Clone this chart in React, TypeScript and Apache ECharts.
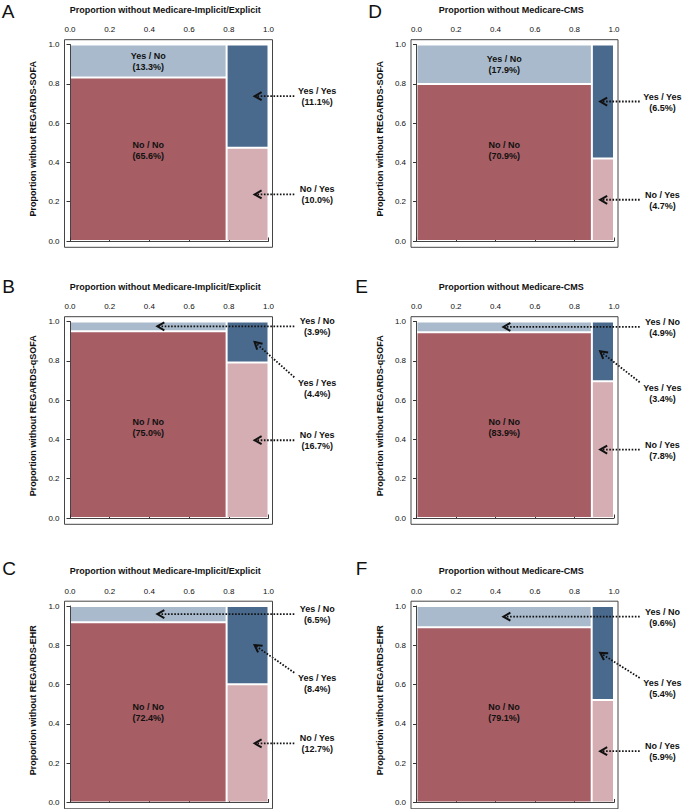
import React, { useEffect, useRef } from 'react';
import * as echarts from 'echarts';

// ---------- data ----------
const panelLetters = ['A', 'B', 'C', 'D', 'E', 'F'];
const xTitles = [
  'Proportion without Medicare-Implicit/Explicit',
  'Proportion without Medicare-Implicit/Explicit',
  'Proportion without Medicare-Implicit/Explicit',
  'Proportion without Medicare-CMS',
  'Proportion without Medicare-CMS',
  'Proportion without Medicare-CMS',
];
const yTitles = [
  'Proportion without REGARDS-SOFA',
  'Proportion without REGARDS-qSOFA',
  'Proportion without REGARDS-EHR',
  'Proportion without REGARDS-SOFA',
  'Proportion without REGARDS-qSOFA',
  'Proportion without REGARDS-EHR',
];
// percentages per panel (A..F)
const noNo = [65.6, 75.0, 72.4, 70.9, 83.9, 79.1];
const yesNo = [13.3, 3.9, 6.5, 17.9, 4.9, 9.6];
const yesYes = [11.1, 4.4, 8.4, 6.5, 3.4, 5.4];
const noYes = [10.0, 16.7, 12.7, 4.7, 7.8, 5.9];
const tickLabels = ['0.0', '0.2', '0.4', '0.6', '0.8', '1.0'];
const cellNames = ['No / No', 'Yes / No', 'Yes / Yes', 'No / Yes'];

// ---------- styles / layout ----------
const FONT = '"Liberation Sans", Arial, Helvetica, sans-serif';
const CELL_COLORS = ['#a65d64', '#a8bacb', '#4a6a8d', '#d4aeb2'];
const COL_LEFT = [70, 416.5];
const COL_W = [198.5, 197.5];
const ROW_TOP = [44.5, 321.5, 606];
const ROW_H = 196.5;
const LETTER_POS = [[8, 11], [8.5, 286], [9, 568], [375, 11], [361.5, 286], [361.5, 568]];
const NO_NO_LABEL_Y = 0.46;
const RIGHT_ARROW_X = 0.93;
const LEFT_ARROW_X = 0.44;
const TAIL_X = 1.13;
const LABEL_X = 1.245;
const INSIDE_MIN = 0.15;

function panelRect(i: number) {
  const col = i < 3 ? 0 : 1;
  const row = i % 3;
  return { left: COL_LEFT[col], top: ROW_TOP[row], width: COL_W[col], height: ROW_H };
}

const textStyle = (text: string, size: number, weight: string) => ({
  text,
  fill: '#111',
  fontSize: size,
  fontWeight: weight,
  fontFamily: FONT,
  lineHeight: 11,
  align: 'center',
  verticalAlign: 'middle',
  textAlign: 'center',
  textVerticalAlign: 'middle',
});

function tileRender(params: any, api: any) {
  const x0 = api.value(0), x1 = api.value(1), y0 = api.value(2), y1 = api.value(3);
  const k = api.value(4), show = api.value(5), ly = api.value(6), pct = api.value(7);
  const a = api.coord([x0, y0]);
  const b = api.coord([x1, y1]);
  const children: any[] = [
    {
      type: 'rect',
      shape: { x: a[0] + 1, y: b[1] + 1, width: b[0] - a[0] - 2, height: a[1] - b[1] - 2 },
      style: { fill: CELL_COLORS[k] },
    },
  ];
  if (show) {
    const c = api.coord([(x0 + x1) / 2, ly]);
    children.push({
      type: 'text',
      x: c[0],
      y: c[1],
      style: textStyle(`${cellNames[k]}\n(${pct.toFixed(1)}%)`, 9, 'bold'),
    });
  }
  return { type: 'group', children };
}

function annotRender(params: any, api: any) {
  const tx = api.value(0), ty = api.value(1), lx = api.value(2), ly = api.value(3);
  const diag = api.value(4), k = api.value(5), pct = api.value(6);
  const head = api.coord([tx, ty]);
  const lab = api.coord([lx, ly]);
  const tb = api.coord([TAIL_X, ly]);
  let tail: number[];
  if (diag) {
    lab[1] += 5;
    tail = [tb[0], lab[1] - 11];
  } else {
    lab[1] = head[1] + 0.5;
    tail = [tb[0], head[1]];
  }
  const dx = head[0] - tail[0], dy = head[1] - tail[1];
  const len = Math.sqrt(dx * dx + dy * dy);
  const ux = dx / len, uy = dy / len;
  const nx = -uy, ny = ux;
  const w1 = [head[0] - 7 * ux + 4 * nx, head[1] - 7 * uy + 4 * ny];
  const w2 = [head[0] - 7 * ux - 4 * nx, head[1] - 7 * uy - 4 * ny];
  return {
    type: 'group',
    children: [
      {
        type: 'line',
        shape: { x1: tail[0], y1: tail[1], x2: head[0] - 2 * ux, y2: head[1] - 2 * uy },
        style: { stroke: '#111', lineWidth: 1.8, lineDash: [1.6, 1.6] },
      },
      {
        type: 'polyline',
        shape: { points: [w1, head, w2] },
        style: { stroke: '#111', lineWidth: 2, fill: null },
      },
      {
        type: 'text',
        x: lab[0],
        y: lab[1],
        style: textStyle(`${cellNames[k]}\n(${pct.toFixed(1)}%)`, 9, 'bold'),
      },
    ],
  };
}

function buildOption() {
  const grid: any[] = [];
  const xAxis: any[] = [];
  const yAxis: any[] = [];
  const series: any[] = [];
  const graphic: any[] = [];
  const fmt = (v: number) => tickLabels[Math.round(v / 0.2)] ?? '';

  for (let i = 0; i < 6; i++) {
    const r = panelRect(i);
    grid.push({ left: r.left, top: r.top, width: r.width, height: r.height, containLabel: false });
    xAxis.push({
      gridIndex: i,
      type: 'value',
      position: 'top',
      min: 0,
      max: 1,
      interval: 0.2,
      offset: 4.8,
      axisLine: { show: true, lineStyle: { color: '#444', width: 1 } },
      axisTick: { show: true, length: 3.5, lineStyle: { color: '#333' } },
      axisLabel: { margin: 6, fontSize: 8, color: '#111', fontFamily: FONT, formatter: fmt },
      splitLine: { show: false },
    });
    yAxis.push({
      gridIndex: i,
      type: 'value',
      position: 'left',
      min: 0,
      max: 1,
      interval: 0.2,
      offset: 5.5,
      axisLine: { show: true, lineStyle: { color: '#444', width: 1 } },
      axisTick: { show: true, length: 3.5, lineStyle: { color: '#333' } },
      axisLabel: { margin: 5, fontSize: 8, color: '#111', fontFamily: FONT, formatter: fmt },
      splitLine: { show: false },
    });

    const total = noNo[i] + yesNo[i] + yesYes[i] + noYes[i];
    const split = (noNo[i] + yesNo[i]) / total;
    const leftCut = noNo[i] / (noNo[i] + yesNo[i]);
    const rightCut = noYes[i] / (noYes[i] + yesYes[i]);
    const yesNoInside = 1 - leftCut > INSIDE_MIN;

    const tiles = [
      [0, split, 0, leftCut, 0, 1, NO_NO_LABEL_Y, noNo[i]],
      [0, split, leftCut, 1, 1, yesNoInside ? 1 : 0, (leftCut + 1) / 2, yesNo[i]],
      [split, 1, rightCut, 1, 2, 0, 0, yesYes[i]],
      [split, 1, 0, rightCut, 3, 0, 0, noYes[i]],
    ];
    series.push({
      type: 'custom',
      xAxisIndex: i,
      yAxisIndex: i,
      renderItem: tileRender,
      data: tiles,
      silent: true,
      z: 2,
    });

    const ynMid = (leftCut + 1) / 2;
    const yyMid = (rightCut + 1) / 2;
    const nyMid = rightCut / 2;
    const annots: number[][] = [];
    if (!yesNoInside) annots.push([LEFT_ARROW_X, ynMid, LABEL_X, ynMid, 0, 1, yesNo[i]]);
    const diag = !yesNoInside;
    annots.push([RIGHT_ARROW_X, yyMid, LABEL_X, diag ? (ynMid + nyMid) / 2 : yyMid, diag ? 1 : 0, 2, yesYes[i]]);
    annots.push([RIGHT_ARROW_X, nyMid, LABEL_X, nyMid, 0, 3, noYes[i]]);
    series.push({
      type: 'custom',
      xAxisIndex: i,
      yAxisIndex: i,
      renderItem: annotRender,
      data: annots,
      clip: false,
      silent: true,
      z: 5,
    });

    // frame
    graphic.push({
      type: 'rect',
      shape: {
        x: r.left - 5.5,
        y: r.top - 4.8,
        width: r.width + 9.5,
        height: r.height + 11.1,
      },
      style: { fill: 'none', stroke: '#444', lineWidth: 1 },
      silent: true,
      z: 10,
    });
    // x title
    graphic.push({
      type: 'text',
      x: r.left + r.width / 2 - 4,
      y: r.top - 35,
      style: textStyle(xTitles[i], 9, 'bold'),
      silent: true,
    });
    // y title
    graphic.push({
      type: 'text',
      x: r.left - 37,
      y: r.top + r.height / 2 - 4,
      rotation: Math.PI / 2,
      style: textStyle(yTitles[i], 9, 'bold'),
      silent: true,
    });
    // panel letter
    graphic.push({
      type: 'text',
      x: LETTER_POS[i][0],
      y: LETTER_POS[i][1],
      style: { ...textStyle(panelLetters[i], 19, 'normal'), lineHeight: 19 },
      silent: true,
    });
  }

  return {
    animation: false,
    backgroundColor: '#ffffff',
    grid,
    xAxis,
    yAxis,
    series,
    graphic,
  };
}

export default function App() {
  const ref = useRef<HTMLDivElement>(null);
  useEffect(() => {
    const chart = echarts.init(ref.current as HTMLDivElement, null, { renderer: 'svg' });
    chart.setOption(buildOption() as any);
    return () => chart.dispose();
  }, []);
  return (
    <div
      ref={ref}
      style={{ position: 'absolute', left: 0, top: 0, width: 685, height: 809 }}
    />
  );
}
